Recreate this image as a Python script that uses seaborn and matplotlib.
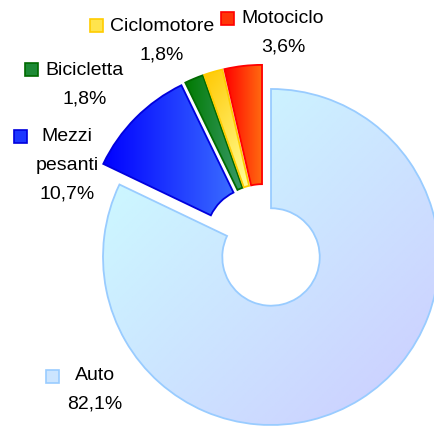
import numpy as np
import matplotlib.pyplot as plt
import seaborn as sns
from matplotlib.patches import Rectangle

# ---------------------------
# Data
# ---------------------------
categories = ["Auto", "Mezzi pesanti", "Bicicletta", "Ciclomotore", "Motociclo"]
name_lines = [["Auto"], ["Mezzi", "pesanti"], ["Bicicletta"], ["Ciclomotore"], ["Motociclo"]]
shares = [82.1, 10.7, 1.8, 1.8, 3.6]
pct_labels = ["82,1%", "10,7%", "1,8%", "1,8%", "3,6%"]

# ---------------------------
# Style
# ---------------------------
explode = [0.085, 0.072, 0.072, 0.072, 0.072]
grad_start = ["#ccffff", "#0000ff", "#007a00", "#ffc800", "#ff0000"]
grad_end = ["#ccccff", "#3a6cff", "#3a9a6a", "#ffff99", "#ff6a10"]
grad_angle = [-45, 0, 0, -60, 0]
edge_colors = ["#99ccff", "#0000dd", "#006a00", "#ffcc00", "#ff0000"]

W, H = 435, 428
center_px = (263.4, 244.9)
scale_px = 168.0

# label layout in pixels: (text centre x, first baseline y), marker centre (x, y)
label_xy = [(95, 380), (67, 141), (85, 75), (162, 31), (283, 23)]
marker_xy = [(53, 376), (21, 136), (32, 69), (97, 25), (228, 18)]
line_gap = 28.8

sns.set_theme(style="white")
plt.rcParams["font.family"] = ["Liberation Sans", "DejaVu Sans"]

fig = plt.figure(figsize=(W / 100, H / 100), dpi=100)
ax = fig.add_axes([0, 0, 1, 1])

wedges, _ = ax.pie(
    shares,
    explode=explode,
    startangle=90,
    counterclock=False,
    radius=1.0,
    wedgeprops=dict(width=0.71, linewidth=1.3),
)


def paint_gradient(ax, wedge, c1, c2, ang):
    ext = wedge.get_path().get_extents()
    n = 200
    xx, yy = np.meshgrid(np.linspace(0, 1, n), np.linspace(0, 1, n))
    t = xx * np.cos(np.radians(ang)) + yy * np.sin(np.radians(ang))
    t = (t - t.min()) / (t.max() - t.min())
    cmap = sns.blend_palette([c1, c2], as_cmap=True)
    im = ax.imshow(t, cmap=cmap, extent=(ext.x0, ext.x1, ext.y0, ext.y1),
                   origin="lower", interpolation="bilinear", zorder=0.5)
    im.set_clip_path(wedge)
    wedge.set_facecolor("none")


for w, c1, c2, ang, ec in zip(wedges, grad_start, grad_end, grad_angle, edge_colors):
    w.set_edgecolor(ec)
    paint_gradient(ax, w, c1, c2, ang)

cx, cy = center_px
ax.set_xlim(-cx / scale_px, (W - cx) / scale_px)
ax.set_ylim(-(H - cy) / scale_px, cy / scale_px)
ax.set_aspect("equal")
ax.axis("off")

# ---------------------------
# Labels (pixel overlay)
# ---------------------------
lab = fig.add_axes([0, 0, 1, 1])
lab.set_xlim(0, W)
lab.set_ylim(H, 0)
lab.axis("off")

for i in range(len(categories)):
    x, y = label_xy[i]
    lines = name_lines[i] + [pct_labels[i]]
    for k, line in enumerate(lines):
        lab.text(x, y + k * line_gap, line, ha="center", va="baseline",
                 fontsize=14, color="black")
    mx, my = marker_xy[i]
    face = sns.blend_palette([grad_start[i], grad_end[i]], 3)[1]
    lab.add_patch(Rectangle((mx - 6.5, my - 6.5), 13, 13, facecolor=face,
                            edgecolor=edge_colors[i], linewidth=1.2))

fig.savefig("out.png", dpi=100)
